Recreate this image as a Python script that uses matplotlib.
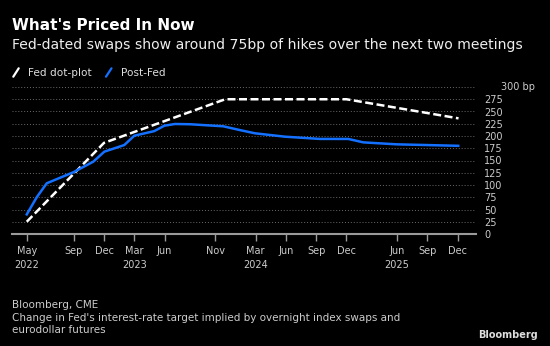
import matplotlib
matplotlib.use("Agg")
import matplotlib.pyplot as plt
from matplotlib.lines import Line2D

# x = months counted from Jan 2022 (Dec 2022 = 11)
dot_x = [3.35, 11.0, 23.0, 35.0, 46.1]
dot_y = [25, 186, 275, 275, 236]

post_x = [3.35, 4.34, 5.33, 7.96, 9.94, 11.03, 13.01, 14.0, 15.98, 16.97, 18.03,
          19.51, 22.81, 24.47, 25.95, 28.92, 32.39, 35.19, 36.67, 39.97, 46.07]
post_y = [40, 75, 103.5, 126, 147.6, 168, 181.6, 200.6, 210, 221, 224.5,
          224, 219.8, 212, 205.5, 198.6, 194, 194, 187, 183, 180]

tick_pos = [3.35, 8, 11, 14, 17, 22, 26, 29, 32, 35, 40, 43, 46]
tick_lab = ["May\n2022", "Sep", "Dec", "Mar\n2023", "Jun", "Nov", "Mar\n2024",
            "Jun", "Sep", "Dec", "Jun\n2025", "Sep", "Dec"]
y_ticks = list(range(0, 300, 25))

BLUE = "#1470ff"
GREY = "#cccccc"

fig = plt.figure(figsize=(5.5, 3.46), dpi=100, facecolor="black")
ax = fig.add_axes([12 / 550, 112 / 346, 464 / 550, 147 / 346], facecolor="black")

ax.plot(dot_x, dot_y, color="white", lw=1.8, dashes=(3.2, 1.4), zorder=3)
ax.plot(post_x, post_y, color=BLUE, lw=1.8, zorder=4, solid_joinstyle="round")

ax.set_xlim(1.89, 47.83)
ax.set_ylim(0, 300)

# dotted grid
for v in range(25, 301, 25):
    ax.axhline(v, color="#6a6a6a", lw=0.7, ls=(0, (1, 2)), zorder=1)

for s in ["top", "left", "right"]:
    ax.spines[s].set_visible(False)
ax.spines["bottom"].set_color("#9a9a9a")
ax.spines["bottom"].set_linewidth(1.5)

ax.set_xticks(tick_pos)
ax.set_xticklabels(tick_lab, linespacing=1.45)
ax.tick_params(axis="x", colors="#9a9a9a", length=5, width=1, labelcolor=GREY,
               labelsize=7, pad=4)

ax.yaxis.tick_right()
ax.set_yticks(y_ticks)
ax.set_yticklabels([str(v) for v in y_ticks])
ax.tick_params(axis="y", length=0, labelcolor=GREY, labelsize=7, pad=6)
for lab in ax.get_yticklabels():
    lab.set_horizontalalignment("left")
ax.annotate("300 bp", xy=(1, 300), xycoords=("axes fraction", "data"),
            xytext=(18, 0), textcoords="offset points", color=GREY,
            fontsize=7, va="center", ha="left", annotation_clip=False)

# title block
fig.text(12 / 550, 1 - 26 / 346, "What's Priced In Now", color="white",
         fontsize=11, fontweight="bold", va="center", ha="left")
fig.text(12 / 550, 1 - 44.5 / 346,
         "Fed-dated swaps show around 75bp of hikes over the next two meetings",
         color="#eeeeee", fontsize=10.05, va="center", ha="left")

# legend
fig.add_artist(Line2D([13.3 / 550, 18.7 / 550], [1 - 76.7 / 346, 1 - 68.3 / 346],
                      color="white", lw=1.6, solid_capstyle="round"))
fig.text(28 / 550, 1 - 72.5 / 346, "Fed dot-plot", color="#dddddd", fontsize=7.6,
         va="center", ha="left")
fig.add_artist(Line2D([106 / 550, 111.5 / 550], [1 - 76.7 / 346, 1 - 68.3 / 346],
                      color=BLUE, lw=1.6, solid_capstyle="round"))
fig.text(121.5 / 550, 1 - 72.5 / 346, "Post-Fed", color="#dddddd", fontsize=7.6,
         va="center", ha="left")

# footer
foot = 7.45
fig.text(12 / 550, 1 - 305.3 / 346, "Bloomberg, CME", color="#cccccc",
         fontsize=foot, va="center", ha="left")
fig.text(12 / 550, 1 - 318 / 346,
         "Change in Fed's interest-rate target implied by overnight index swaps and",
         color="#cccccc", fontsize=foot, va="center", ha="left")
fig.text(12 / 550, 1 - 330.3 / 346, "eurodollar futures", color="#cccccc",
         fontsize=foot, va="center", ha="left")
fig.text(538 / 550, 1 - 334.7 / 346, "Bloomberg", color="#dddddd", fontsize=7,
         fontweight="bold", va="center", ha="right")

fig.savefig("out.png", dpi=100, facecolor="black")
